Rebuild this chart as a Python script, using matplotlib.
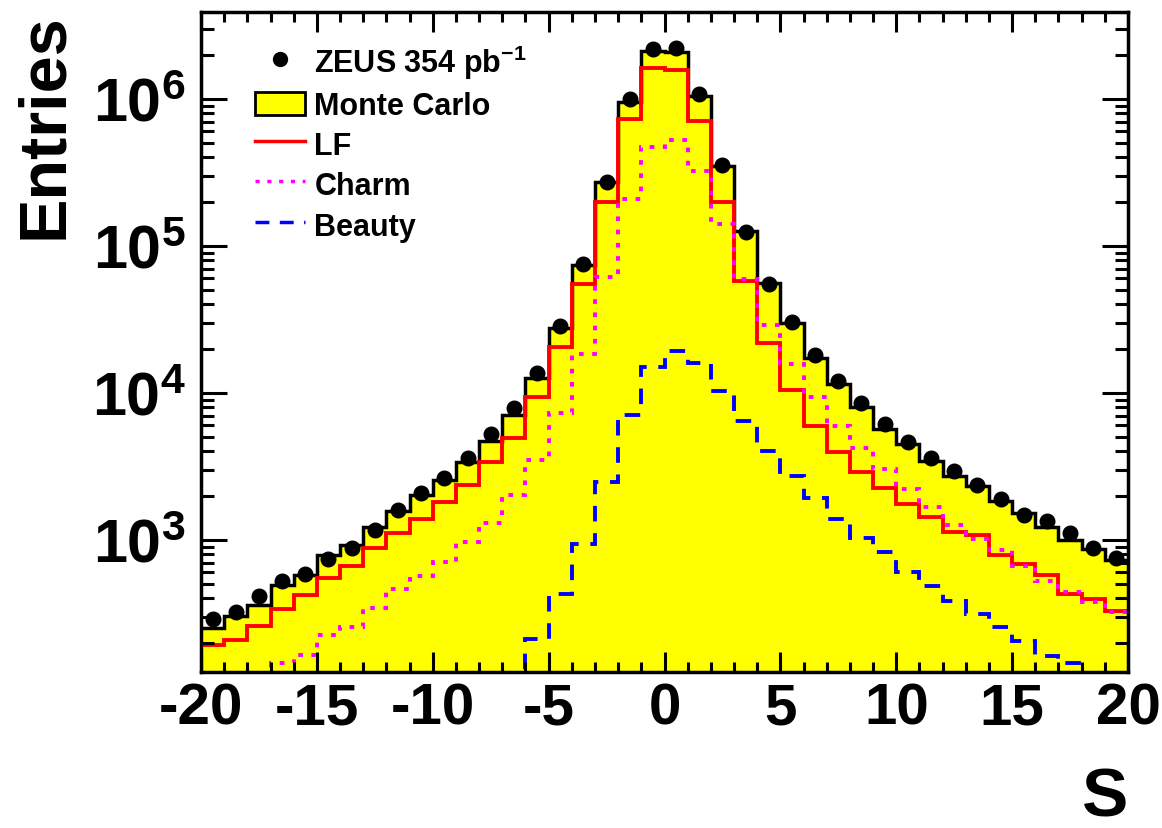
import matplotlib
matplotlib.use("Agg")
import matplotlib.pyplot as plt
import numpy as np
from matplotlib.legend_handler import HandlerPatch
from matplotlib.lines import Line2D
from matplotlib.patches import Patch, Rectangle
from matplotlib.ticker import LogLocator, MultipleLocator, NullFormatter

# binning of the significance S: 40 bins of width 1 from -20 to 20
edges = np.arange(-20, 21, 1)
centres = edges[:-1] + 0.5

# values (entries per bin)
data = [287, 322, 414, 526, 588, 743, 878, 1157, 1600, 2085,
        2650, 3600, 5230, 7870, 13740, 28650, 75500, 273000, 1000000, 2190000,
        2210000, 1080000, 357000, 124000, 55000, 30270, 18040, 11990, 8550, 6150,
        4620, 3610, 2920, 2365, 1900, 1463, 1333, 1117, 878, 755]
mc = [251, 303, 361, 494, 578, 791, 915, 1220, 1560, 2015,
      2560, 3360, 4720, 7100, 12680, 27730, 73500, 271000, 950000, 2130000,
      2100000, 1040000, 352000, 127000, 56000, 29640, 17220, 11430, 8000, 5690,
      4500, 3460, 2735, 2317, 1823, 1527, 1219, 989, 869, 723]
lf = [191, 207, 261, 340, 423, 551, 668, 878, 1120, 1387,
      1819, 2341, 3360, 4950, 9330, 20400, 55100, 200000, 730000, 1620000,
      1560000, 710000, 200000, 58000, 21850, 10470, 5985, 3980, 2885, 2250,
      1757, 1427, 1128, 1070, 782, 687, 572, 430, 397, 330]
charm = [95, 105, 118, 146, 165, 226, 257, 343, 465, 566,
         711, 964, 1306, 2015, 3475, 7345, 18400, 61500, 209000, 469000,
         528000, 325000, 141000, 59700, 29060, 15740, 9330, 5985, 4210, 3040,
         2222, 1668, 1251, 1016, 846, 668, 528, 441, 380, 322]
beauty = [15, 18, 20, 22, 25, 28, 32, 38, 45, 55,
          65, 80, 95, 110, 212, 427, 940, 2474, 7010, 15100,
          19400, 15900, 10280, 6380, 4045, 2737, 1923, 1390, 1027, 825,
          603, 483, 384, 314, 256, 206, 163, 146, 115, 100]

xtick_values = [-20, -15, -10, -5, 0, 5, 10, 15, 20]
xtick_labels = ["-20", "-15", "-10", "-5", "0", "5", "10", "15", "20"]
ytick_values = [1e3, 1e4, 1e5, 1e6]
ytick_labels = [r"$10^{3}$", r"$10^{4}$", r"$10^{5}$", r"$10^{6}$"]

plt.rcParams["font.family"] = ["Liberation Sans", "DejaVu Sans"]
plt.rcParams["font.weight"] = "bold"
plt.rcParams["axes.labelweight"] = "bold"
plt.rcParams["mathtext.fontset"] = "custom"
plt.rcParams["mathtext.rm"] = "Liberation Sans:bold"
plt.rcParams["mathtext.it"] = "Liberation Sans:bold"
plt.rcParams["mathtext.bf"] = "Liberation Sans:bold"
plt.rcParams["mathtext.default"] = "rm"

fig = plt.figure(figsize=(11.62, 8.29), dpi=100)
ax = fig.add_axes([201 / 1162, 1 - 673 / 829, 927 / 1162, 660 / 829])
ax.set_yscale("log")

ax.stairs(mc, edges, baseline=1, fill=True, color="#ffff00", zorder=1)
ax.stairs(mc, edges, baseline=None, color="black", lw=2.5, zorder=1.6)
ax.stairs(lf, edges, baseline=None, color="red", lw=2.8, zorder=1.7)
ax.stairs(charm, edges, baseline=None, color="magenta", lw=2.8,
          linestyle=(0, (1.2, 2.2)), zorder=1.8)
ax.stairs(beauty, edges, baseline=None, color="blue", lw=2.8,
          linestyle=(0, (4, 3)), zorder=1.9)
ax.plot(centres, data, "o", color="black", ms=10.5, zorder=2.2)

ax.set_xlim(-20, 20)
ax.set_ylim(126, 3.9e6)
ax.set_axisbelow(False)

ax.set_xticks(xtick_values, labels=xtick_labels)
ax.xaxis.set_minor_locator(MultipleLocator(1))
ax.set_yticks(ytick_values, labels=ytick_labels)
ax.yaxis.set_minor_locator(LogLocator(base=10, subs=np.arange(2, 10), numticks=20))
ax.yaxis.set_minor_formatter(NullFormatter())

ax.tick_params(which="both", direction="in", top=True, right=True, width=2.2)
ax.tick_params(axis="x", which="major", length=14.5, labelsize=42, pad=7)
ax.tick_params(axis="x", which="minor", length=7.2)
ax.tick_params(axis="y", which="major", length=19, labelsize=44, pad=11)
ax.tick_params(axis="y", which="minor", length=9.5)
for spine in ax.spines.values():
    spine.set_linewidth(2.5)

ax.set_xlabel("S", fontsize=50, fontweight="bold", loc="right")
ax.xaxis.set_label_coords(1.0, -0.141)
ax.set_ylabel("Entries", fontsize=48, fontweight="bold")
ax.yaxis.set_label_coords(-0.168, 1.0)
ax.yaxis.label.set_rotation_mode("default")
ax.yaxis.label.set_ha("center")
ax.yaxis.label.set_va("top")


def legend_box(legend, orig_handle, xdescent, ydescent, width, height, fontsize):
    # keep the yellow box shorter than the (taller) legend rows
    box_h = 0.75 * fontsize
    return Rectangle((-xdescent, -ydescent + (height - box_h) / 2), width, box_h)


handles = [
    Line2D([], [], marker="o", color="black", linestyle="none", markersize=10),
    Patch(facecolor="#ffff00", edgecolor="black", linewidth=2),
    Line2D([], [], color="red", lw=2.5),
    Line2D([], [], color="magenta", lw=2.5, linestyle=(0, (1.2, 2.2))),
    Line2D([], [], color="blue", lw=2.5, linestyle=(0, (4, 3))),
]
labels = ["ZEUS 354 pb$^{-1}$", "Monte Carlo", "LF", "Charm", "Beauty"]
ax.legend(handles, labels, loc="upper left", bbox_to_anchor=(0.058, 0.9535),
          frameon=False, fontsize=22, handlelength=1.65, handleheight=1.2,
          handletextpad=0.3, labelspacing=0.235, borderpad=0, borderaxespad=0,
          handler_map={Patch: HandlerPatch(patch_func=legend_box)})

fig.savefig("out.png", dpi=100)
